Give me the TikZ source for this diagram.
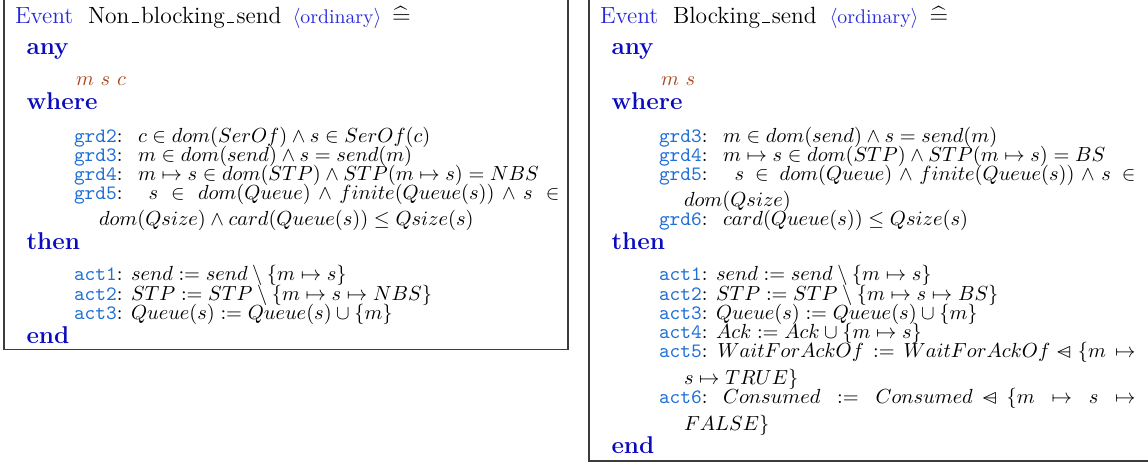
\documentclass[tikz,border=0pt]{standalone}
\usepackage{amssymb}
\usepackage{xcolor}

\definecolor{evblue}{RGB}{40,40,220}
\definecolor{kwblue}{RGB}{10,10,190}
\definecolor{lblblue}{RGB}{30,110,215}
\definecolor{parbrown}{RGB}{170,70,30}
\definecolor{framegray}{RGB}{60,60,60}

% Event-B relational override
\newcommand\ovr{\mathbin{\mbox{$\lhd\mkern-14mu-$}}}
% low rule used as underscore in event names
\newcommand\lowbar{\kern.1em\vbox{\hrule width .3em}\kern.1em}
% guard / action label followed by a colon
\newcommand\lb[1]{\textcolor{lblblue}{\texttt{#1}}:}

\tikzset{
  txt/.style={anchor=base west, inner sep=0pt, outer sep=0pt},
  hdr/.style={txt, font=\fontsize{11.5}{13}\selectfont},
  ordtag/.style={txt, font=\fontsize{9.7}{11}\selectfont, text=evblue},
  kw/.style={txt, font=\fontsize{11.9}{14}\selectfont\bfseries, text=kwblue},
  param/.style={txt, font=\fontsize{10}{12}\selectfont, text=parbrown},
  lbl/.style={txt, font=\fontsize{10}{12}\selectfont},
  pred/.style={txt, font=\fontsize{10}{12}\selectfont},
  frameline/.style={draw=framegray, line width=0.75pt}
}

\begin{document}
\begin{tikzpicture}[x=0.4902pt, y=-0.4902pt]
\useasboundingbox (0,0) rectangle (1148,465);

% frames of the two events
\draw[frameline] (4,-4) -- (4,349.5) -- (568,349.5) -- (568,-4);
\draw[frameline] (589,-4) -- (589,461) -- (1152,461);

% ---------------- Non_blocking_send ----------------
\node[hdr, text=evblue] (evL) at (15,23.3) {Event};
\node[hdr] (nameL) at (88,23.3) {Non\lowbar blocking\lowbar send};
\node[ordtag] (ordL) at (292.5,23.3) {$\langle$ordinary$\rangle$};
\node[hdr] (defL) at (392,23.3) {$\widehat{=}$};

\node[kw] (anyL) at (26.5,55) {any};
\node[param] (parL) at (76,85.7) {$m\ s\ c$};
\node[kw] (whereL) at (26.5,110) {where};

\node[lbl] (g2L) at (74,142.5) {\lb{grd2}};
\node[pred] (g2Lp) at (138,142.5) {$c \in dom(SerOf) \land s \in SerOf(c)$};
\node[lbl] (g3L) at (74,161.5) {\lb{grd3}};
\node[pred] (g3Lp) at (138,161.5) {$m \in dom(send) \land s = send(m)$};
\node[lbl] (g4L) at (74,180.7) {\lb{grd4}};
\node[pred] (g4Lp) at (138,180.7) {$m \mapsto s \in dom(STP) \land STP(m \mapsto s) = NBS$};
\node[lbl] (g5L) at (74,199.7) {\lb{grd5}};
\node[pred] (g5Lp) at (148.5,199.7) {\hbox to 201.5pt{$s \in dom(Queue) \land finite(Queue(s)) \land s \in$}};
\node[pred] (g5Lq) at (99,225.5) {$dom(Qsize) \land card(Queue(s)) \leq Qsize(s)$};

\node[kw] (thenL) at (26.5,249.3) {then};

\node[lbl] (a1L) at (74,281) {\lb{act1}};
\node[pred] (a1Lp) at (131,281) {$send := send \setminus \{m \mapsto s\}$};
\node[lbl] (a2L) at (74,300.2) {\lb{act2}};
\node[pred] (a2Lp) at (131,300.2) {$STP := STP \setminus \{m \mapsto s \mapsto NBS\}$};
\node[lbl] (a3L) at (74,319.4) {\lb{act3}};
\node[pred] (a3Lp) at (131,319.4) {$Queue(s) := Queue(s) \cup \{m\}$};

\node[kw] (endL) at (26.5,343.3) {end};

% ---------------- Blocking_send ----------------
\node[hdr, text=evblue] (evR) at (600,23.3) {Event};
\node[hdr] (nameR) at (673,23.3) {Blocking\lowbar send};
\node[ordtag] (ordR) at (829.5,23.3) {$\langle$ordinary$\rangle$};
\node[hdr] (defR) at (929.5,23.3) {$\widehat{=}$};

\node[kw] (anyR) at (611.5,55) {any};
\node[param] (parR) at (661,85.7) {$m\ s$};
\node[kw] (whereR) at (611.5,110) {where};

\node[lbl] (g3R) at (659,142.5) {\lb{grd3}};
\node[pred] (g3Rp) at (723,142.5) {$m \in dom(send) \land s = send(m)$};
\node[lbl] (g4R) at (659,161.5) {\lb{grd4}};
\node[pred] (g4Rp) at (723,161.5) {$m \mapsto s \in dom(STP) \land STP(m \mapsto s) = BS$};
\node[lbl] (g5R) at (659,180.7) {\lb{grd5}};
\node[pred] (g5Rp) at (734.5,180.7) {\hbox to 196.6pt{$s \in dom(Queue) \land finite(Queue(s)) \land s \in$}};
\node[pred] (g5Rq) at (684,206.5) {$dom(Qsize)$};
\node[lbl] (g6R) at (659,225.5) {\lb{grd6}};
\node[pred] (g6Rp) at (723,225.5) {$card(Queue(s)) \leq Qsize(s)$};

\node[kw] (thenR) at (611.5,249.3) {then};

\node[lbl] (a1R) at (659,281) {\lb{act1}};
\node[pred] (a1Rp) at (716,281) {$send := send \setminus \{m \mapsto s\}$};
\node[lbl] (a2R) at (659,300.2) {\lb{act2}};
\node[pred] (a2Rp) at (716,300.2) {$STP := STP \setminus \{m \mapsto s \mapsto BS\}$};
\node[lbl] (a3R) at (659,319.4) {\lb{act3}};
\node[pred] (a3Rp) at (716,319.4) {$Queue(s) := Queue(s) \cup \{m\}$};
\node[lbl] (a4R) at (659,338.6) {\lb{act4}};
\node[pred] (a4Rp) at (716,338.6) {$Ack := Ack \cup \{m \mapsto s\}$};
\node[lbl] (a5R) at (659,357.8) {\lb{act5}};
\node[pred] (a5Rp) at (717.5,357.8) {\hbox to 204.9pt{$WaitForAckOf := WaitForAckOf \ovr \{m \mapsto$}};
\node[pred] (a5Rq) at (684,384.3) {$s \mapsto TRUE\}$};
\node[lbl] (a6R) at (659,403.5) {\lb{act6}};
\node[pred] (a6Rp) at (723,403.5) {\hbox to 202.2pt{$Consumed := Consumed \ovr \{m \mapsto s \mapsto$}};
\node[pred] (a6Rq) at (684,430) {$FALSE\}$};

\node[kw] (endR) at (611.5,453.3) {end};
\end{tikzpicture}
\end{document}
